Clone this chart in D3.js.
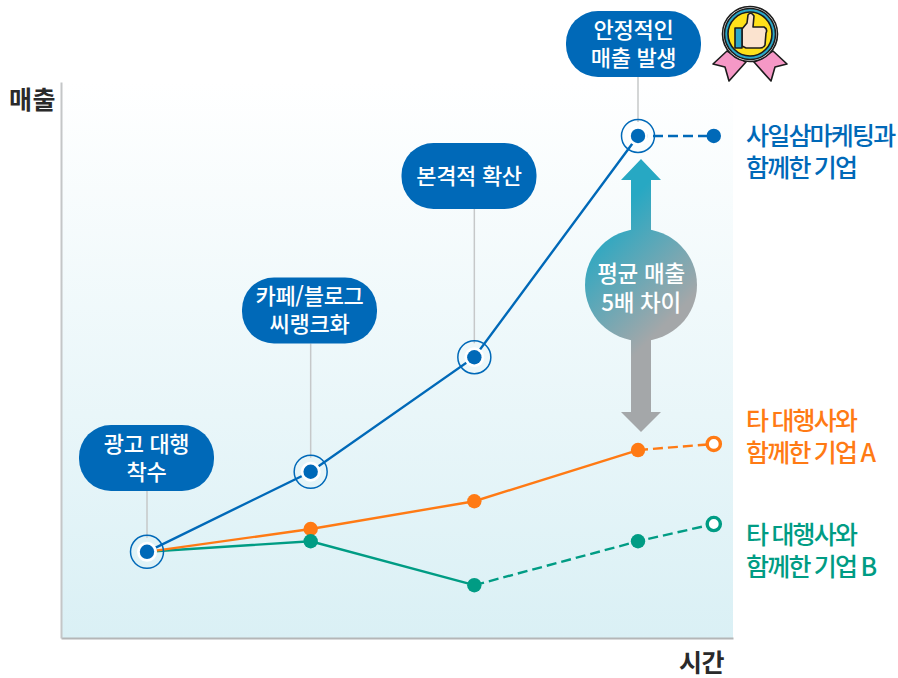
<!DOCTYPE html>
<html lang="ko">
<head>
<meta charset="utf-8">
<script src="https://cdn.jsdelivr.net/npm/d3@7"></script>
<style>
  html, body { margin: 0; padding: 0; background: #fff; }
  svg { display: block; }
  text { font-family: "Noto Sans CJK KR", "Noto Sans", sans-serif; }
</style>
</head>
<body>
<main></main>
<script>
// values (time = stage, sales = % of axis height)
const times = [0, 1, 2, 3, 3.463]
const salesOurs = [15.5, 29.9, 50.5, 90.3, 90.3]
const salesA = [15.5, 19.6, 24.6, 33.8, 34.9]
const salesB = [15.5, 17.4, 9.5, 17.4, 20.5]

const stageLabels = [
    ['광고 대행', '착수'],
    ['카페/블로그', '씨랭크화'],
    ['본격적 확산'],
    ['안정적인', '매출 발생']
]
const seriesLabels = [
    ['사일삼마케팅과', '함께한 기업'],
    ['타 대행사와', '함께한 기업 A'],
    ['타 대행사와', '함께한 기업 B']
]
const gapLabel = ['평균 매출', '5배 차이']
const axisLabels = ['매출', '시간']

const size = { width: 898, height: 678 }
const plot = { left: 62, right: 733, top: 82, bottom: 638 }
const blue = '#0069b8', orange = '#ff7a14', green = '#009c84'

const x = d3.scaleLinear().domain([0, 3]).range([147, 638])
const y = d3.scaleLinear().domain([0, 100]).range([plot.bottom, plot.top])

const svg = d3.select('main').append('svg')
    .attr('width', size.width)
    .attr('height', size.height)

const defs = svg.append('defs')

const bg = defs.append('linearGradient').attr('id', 'bg')
    .attr('x1', 0).attr('y1', 0).attr('x2', 0).attr('y2', 1)
bg.append('stop').attr('offset', 0).attr('stop-color', '#ffffff')
bg.append('stop').attr('offset', 1).attr('stop-color', '#daf0f5')

const gapFill = defs.append('linearGradient').attr('id', 'gapFill')
    .attr('gradientUnits', 'userSpaceOnUse')
    .attr('x1', 600).attr('y1', 230).attr('x2', 680).attr('y2', 310)
gapFill.append('stop').attr('offset', 0).attr('stop-color', '#27a8c3')
gapFill.append('stop').attr('offset', 1).attr('stop-color', '#a4a7a9')

// one text element per label, lines as tspans
const multiline = (lines, tx, ty, lineGap) => {
    const t = svg.append('text')
    lines.forEach((d, i) => {
        t.append('tspan').attr('x', tx).attr('y', ty + i * lineGap).text(d)
    })
    return t
}

// background
svg.append('rect')
    .attr('x', plot.left).attr('y', plot.top)
    .attr('width', plot.right - plot.left)
    .attr('height', plot.bottom - plot.top)
    .attr('fill', 'url(#bg)')

// axes, no ticks
const xAxis = d3.axisBottom(d3.scaleLinear().range([plot.left - 1, plot.right])).tickValues([]).tickSizeOuter(0)
const yAxis = d3.axisLeft(y).tickValues([]).tickSizeOuter(0)

svg.append('g').attr('transform', `translate(0,${plot.bottom})`).call(xAxis)
    .select('.domain').attr('stroke', '#b4b6b7').attr('stroke-width', 2)
svg.append('g').attr('transform', `translate(${plot.left - 1},0)`).call(yAxis)
    .select('.domain').attr('stroke', '#c4c6c7').attr('stroke-width', 2)

// leader lines and pills
const pillBoxes = [
    { cx: 146.5, top: 425 },
    { cx: 309.5, top: 277.5 },
    { cx: 469, top: 143 },
    { cx: 633.5, top: 11 }
]
const pillW = 135, pillH = 66

stageLabels.forEach((lines, i) => {
    svg.append('line')
        .attr('x1', x(times[i])).attr('x2', x(times[i]))
        .attr('y1', pillBoxes[i].top + pillH)
        .attr('y2', y(salesOurs[i]) - 14)
        .attr('stroke', '#c6c8c9').attr('stroke-width', 1.5)
})

// gap arrow
const gap = svg.append('g').attr('fill', 'url(#gapFill)')
gap.append('path')
    .attr('d', 'M641 159L661 180H651V412H661L641 432L621 412H631V180H621Z')
gap.append('circle').attr('cx', 641).attr('cy', 285).attr('r', 56)

multiline(gapLabel, 641, 282, 29)
    .attr('text-anchor', 'middle')
    .attr('fill', '#fff').attr('font-size', 22.5).attr('font-weight', 500)
    .attr('letter-spacing', -0.3)

// lines
const line = d3.line().x(d => x(d[0])).y(d => y(d[1]))

const drawSeries = (values, color, solidUntil) => {
    const pts = times.map((t, i) => [t, values[i]])
    svg.append('path')
        .attr('d', line(pts.slice(0, solidUntil + 1)))
        .attr('fill', 'none').attr('stroke', color).attr('stroke-width', 2.4)
    svg.append('path')
        .attr('d', line(pts.slice(solidUntil)))
        .attr('fill', 'none').attr('stroke', color).attr('stroke-width', 2.4)
        .attr('stroke-dasharray', '10 5')
}

drawSeries(salesB, green, 2)
drawSeries(salesA, orange, 3)
drawSeries(salesOurs, blue, 3)

// points for A and B
const drawDots = (values, color) => {
    values.forEach((v, i) => {
        if (i === 0) return
        const last = i === values.length - 1
        svg.append('circle')
            .attr('cx', x(times[i])).attr('cy', y(v))
            .attr('r', last ? 6.6 : 7.2)
            .attr('fill', last ? '#fff' : color)
            .attr('stroke', last ? color : 'none')
            .attr('stroke-width', last ? 3.4 : 0)
    })
}
drawDots(salesA, orange)
drawDots(salesB, green)

// ringed points on our line
salesOurs.forEach((v, i) => {
    const cx = x(times[i]), cy = y(v)
    if (i < 4) {
        svg.append('circle').attr('cx', cx).attr('cy', cy).attr('r', 16.5)
            .attr('fill', 'none').attr('stroke', blue).attr('stroke-width', 1.5)
        svg.append('circle').attr('cx', cx).attr('cy', cy).attr('r', 10).attr('fill', '#fff')
    }
    svg.append('circle').attr('cx', cx).attr('cy', cy).attr('r', 7.2).attr('fill', blue)
})

// pills
stageLabels.forEach((lines, i) => {
    const b = pillBoxes[i]
    svg.append('rect')
        .attr('x', b.cx - pillW / 2).attr('y', b.top)
        .attr('width', pillW).attr('height', pillH)
        .attr('rx', 32).attr('fill', blue)
    const first = b.top + pillH / 2 + 7.5 - (lines.length - 1) * 14
    multiline(lines, b.cx, first, 28)
        .attr('text-anchor', 'middle')
        .attr('fill', '#fff').attr('font-size', 22).attr('font-weight', 500)
        .attr('letter-spacing', -0.3)
})

// series labels
const labelTops = [145, 430, 544]
const labelColors = [blue, orange, green]
seriesLabels.forEach((lines, i) => {
    multiline(lines, 746, labelTops[i], 32)
        .attr('fill', labelColors[i]).attr('font-size', 25).attr('font-weight', 500)
        .attr('letter-spacing', -1.8)
        .attr('word-spacing', -1)
})

// axis titles
svg.append('text').attr('x', 9).attr('y', 109)
    .attr('fill', '#2a2a2a').attr('font-size', 25).attr('font-weight', 700).attr('letter-spacing', 0.5)
    .text(axisLabels[0])
svg.append('text').attr('x', 679).attr('y', 672)
    .attr('fill', '#2a2a2a').attr('font-size', 25).attr('font-weight', 700).attr('letter-spacing', -0.5)
    .text(axisLabels[1])

// medal icon
const medal = svg.append('g').attr('transform', 'translate(750,34)')
    .attr('stroke', '#1c1c1c').attr('stroke-width', 1.6).attr('stroke-linejoin', 'round')
medal.append('path').attr('d', 'M-23 17L-37 30L-25 33L-21 47L-4 28Z').attr('fill', '#f598c6')
medal.append('path').attr('d', 'M23 17L37 30L25 33L21 47L4 28Z').attr('fill', '#f598c6')
medal.append('circle').attr('r', 27.5).attr('fill', '#fff')
medal.append('circle').attr('r', 25.5).attr('fill', '#2aa7c9')
medal.append('circle').attr('r', 22).attr('fill', '#ffe11a')
medal.append('path')
    .attr('d', 'M-8 -5L-3 -11L-2 -19Q1 -23 4 -18L3 -7H14Q18 -5 16 -1L15 11Q14 14 10 14H-4L-8 12Z')
    .attr('fill', '#fbe3cf')
medal.append('rect').attr('x', -15).attr('y', -6).attr('width', 7).attr('height', 20).attr('fill', '#2aa7c9')
</script>
</body>
</html>
